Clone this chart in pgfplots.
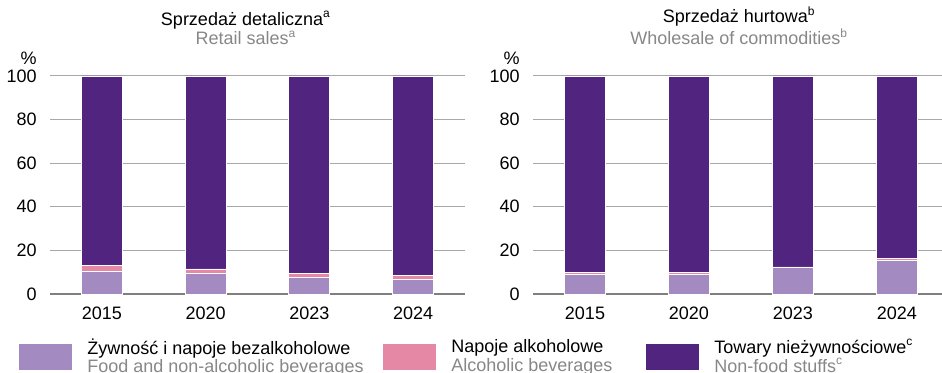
\documentclass[border=0pt]{standalone}
\usepackage{fontspec}
\setmainfont{Liberation Sans}
\usepackage{pgfplots}
\pgfplotsset{compat=1.18}

\definecolor{food}{HTML}{A38BC1}
\definecolor{alco}{HTML}{E488A6}
\definecolor{nonfood}{HTML}{512480}
\definecolor{subgray}{HTML}{878787}
\definecolor{gridgray}{HTML}{A8A8A8}
\definecolor{axgray}{HTML}{7F7F7F}

\pgfplotsset{
  sales/.style={
    scale only axis, height=109pt, clip=false,
    ybar stacked, bar width=20.5pt,
    ymin=0, ymax=100, ytick={0,20,...,100},
    xmin=-0.5,
    xtick={0,1,2,3}, xticklabels={2015,2020,2023,2024},
    axis x line=bottom, axis y line=left,
    x axis line style={-, axgray, line width=0.6pt},
    y axis line style={draw=none},
    ymajorgrids, grid style={gridgray, line width=0.5pt},
    major tick length=0pt, tick style={draw=none},
    tick label style={font=\fontsize{9}{10}\selectfont},
    /pgf/number format/assume math mode=true,
    yticklabel style={inner sep=0pt, xshift=-6.5pt},
    xticklabel style={inner sep=0pt, yshift=-6.5pt},
    title style={align=center, font=\fontsize{9}{7.5}\selectfont, inner sep=0pt, anchor=base},
    legend image code/.code={\fill[##1, draw=none] (0pt,-6.5pt) rectangle (26.5pt,6.5pt);},
    every axis plot/.append style={draw=white, line width=0.4pt},
  },
}

% shares in %
\pgfplotstableread{
x food alco nonfood
0 10.3 2.6 87.1
1 9.5 2.0 88.5
2 7.7 1.8 90.5
3 6.6 1.8 91.6
}\retail
\pgfplotstableread{
x food alco nonfood
0 8.9 1.1 90.0
1 9.1 0.6 90.3
2 12.0 0.4 87.6
3 15.5 0.6 83.9
}\wholesale

\newcommand{\twoline}[2]{\raisebox{4.5pt}{\begin{tabular}{@{}l@{}}#1\\\textcolor{subgray}{#2}\end{tabular}}}

\begin{document}
\begin{tikzpicture}
\useasboundingbox (0,0) rectangle (471pt,186.5pt);

\begin{axis}[sales, width=207.5pt, xmax=3.5,
  at={(25pt,39.5pt)}, anchor=south west,
  title={Sprzedaż detaliczna\textsuperscript{a}\\\textcolor{subgray}{Retail sales\textsuperscript{a}}},
  title style={at={(axis description cs:0.472,1)}, yshift=9.5pt},
  legend style={legend columns=3, draw=none, fill=none, inner sep=0pt,
    at={(axis description cs:-0.0747,-0.289)}, anchor=west,
    font=\fontsize{9}{9}\selectfont,
    nodes={inner sep=0pt},
    /tikz/every odd column/.append style={column sep=7.5pt}},
  legend cell align=left]
\addplot[fill=food] table[x=x, y=food] {\retail};
\addplot[fill=alco] table[x=x, y=alco] {\retail};
\addplot[fill=nonfood] table[x=x, y=nonfood] {\retail};
\addlegendentry{\makebox[148pt][l]{\twoline{Żywność i napoje bezalkoholowe}{Food and non-alcoholic beverages}}}
\addlegendentry{\makebox[97.5pt][l]{\twoline{Napoje alkoholowe}{Alcoholic beverages}}}
\addlegendentry{\twoline{Towary nieżywnościowe\textsuperscript{c}}{Non-food stuffs\textsuperscript{c}}}
\node[anchor=base east, inner sep=0pt, xshift=-6.5pt, yshift=5.5pt, font=\fontsize{9}{10}\selectfont] at (rel axis cs:0,1) {\%};
\end{axis}

\begin{axis}[sales, width=204.5pt, xmax=3.433,
  at={(266.5pt,39.5pt)}, anchor=south west,
  title={Sprzedaż hurtowa\textsuperscript{b}\\\textcolor{subgray}{Wholesale of commodities\textsuperscript{b}}},
  title style={at={(axis description cs:0.504,1)}, yshift=9.5pt}]
\addplot[fill=food] table[x=x, y=food] {\wholesale};
\addplot[fill=alco] table[x=x, y=alco] {\wholesale};
\addplot[fill=nonfood] table[x=x, y=nonfood] {\wholesale};
\node[anchor=base east, inner sep=0pt, xshift=-6.5pt, yshift=5.5pt, font=\fontsize{9}{10}\selectfont] at (rel axis cs:0,1) {\%};
\end{axis}
\end{tikzpicture}
\end{document}
